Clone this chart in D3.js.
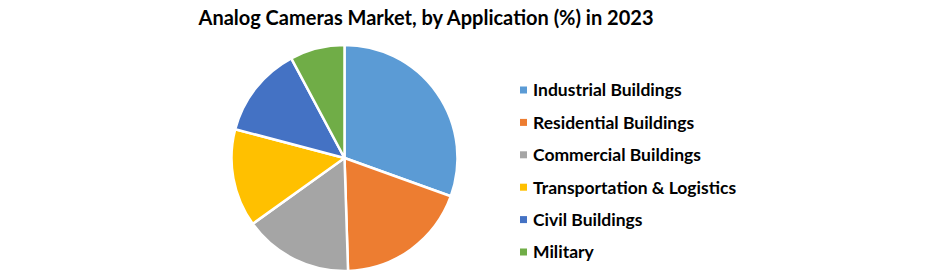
<!DOCTYPE html>
<html>
<head>
<meta charset="utf-8">
<script src="https://cdn.jsdelivr.net/npm/d3@7"></script>
<style>
  body { margin: 0; background: #fff; }
  text { font-family: Lato, "Open Sans", sans-serif; font-weight: bold; fill: #000; }
</style>
</head>
<body>
<div id="chart"></div>
<script>
// Data
var categories = ['Industrial Buildings', 'Residential Buildings', 'Commercial Buildings',
    'Transportation & Logistics', 'Civil Buildings', 'Military'];
var shares = [30.5, 19.0, 15.6, 14.0, 13.1, 7.8];
var colors = ['#5B9BD5', '#ED7D31', '#A5A5A5', '#FFC000', '#4472C4', '#70AD47'];
var title = 'Analog Cameras Market, by Application (%) in 2023';

var W = 941, H = 274;

var svg = d3.select('#chart').append('svg')
    .attr('width', W).attr('height', H);

svg.append('text')
    .attr('x', 426).attr('y', 25)
    .attr('text-anchor', 'middle')
    .style('font-size', '20px')
    .text(title);

var cx = 344.5, cy = 158, r = 113;

var pie = d3.pie().sort(null).value(function(d) { return d; });
var arc = d3.arc().innerRadius(0).outerRadius(r);

var g = svg.append('g').attr('transform', 'translate(' + cx + ',' + cy + ')');

g.selectAll('path')
    .data(pie(shares))
    .enter().append('path')
    .attr('d', arc)
    .attr('fill', function(d, i) { return colors[i]; })
    .attr('stroke', '#fff')
    .attr('stroke-width', 2.5)
    .attr('stroke-linejoin', 'round');

// Legend
var rowY = d3.scalePoint().domain(categories).range([90, 252]);

var leg = svg.append('g').selectAll('g')
    .data(categories)
    .enter().append('g')
    .attr('transform', function(d) { return 'translate(520,' + rowY(d) + ')'; });

leg.append('rect')
    .attr('x', 0).attr('y', -3.5)
    .attr('width', 7).attr('height', 7)
    .attr('fill', function(d, i) { return colors[i]; });

leg.append('text')
    .attr('x', 13).attr('y', 0)
    .attr('dy', '0.36em')
    .style('font-size', '17.5px')
    .text(function(d) { return d; });
</script>
</body>
</html>
